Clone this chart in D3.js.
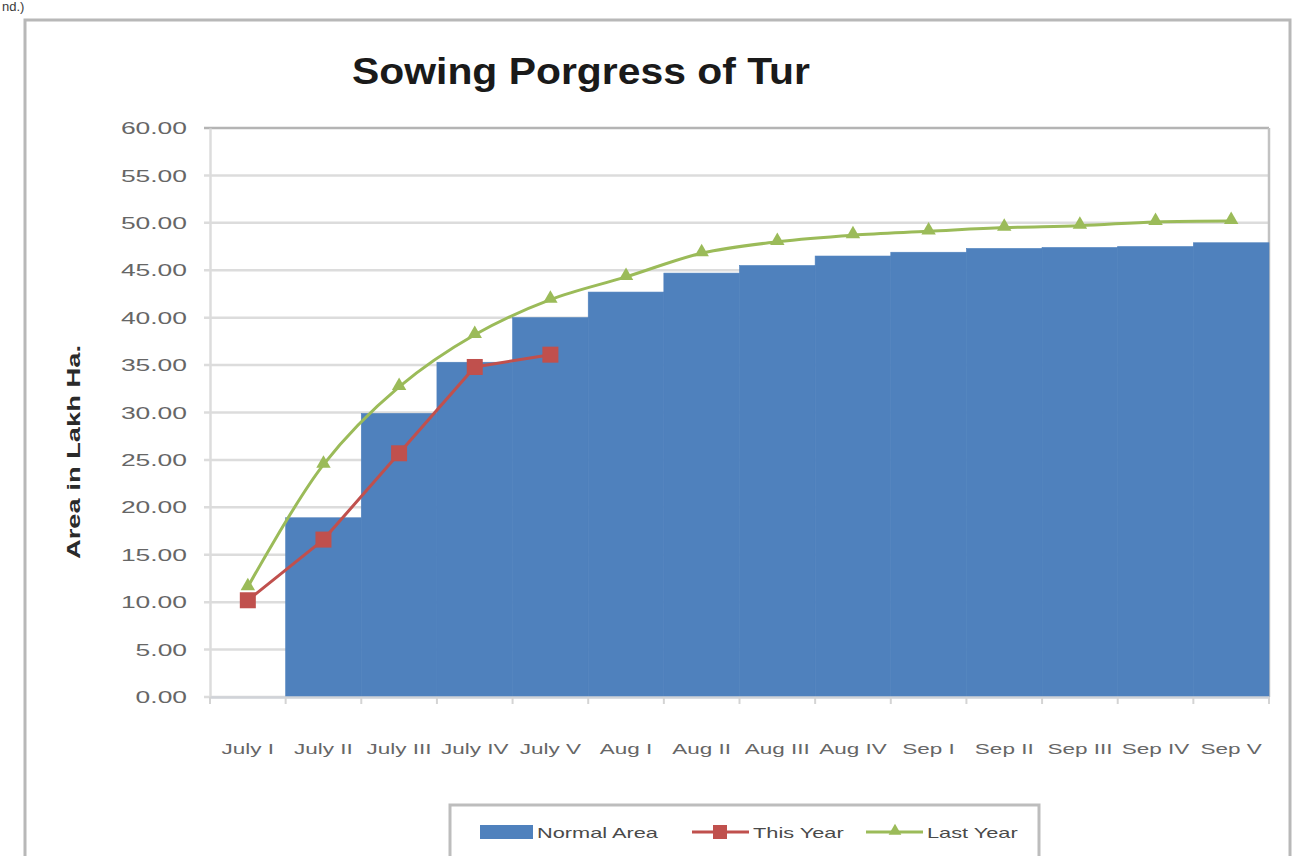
<!DOCTYPE html>
<html>
<head>
<meta charset="utf-8">
<script src="https://cdn.jsdelivr.net/npm/d3@7"></script>
<style>
  html, body { margin: 0; padding: 0; background: #ffffff; overflow: hidden; }
  svg { display: block; }
</style>
</head>
<body>
<script>
// ---------- Data ----------
const categories = ["July I", "July II", "July III", "July IV", "July V", "Aug I", "Aug II", "Aug III", "Aug IV", "Sep I", "Sep II", "Sep III", "Sep IV", "Sep V"];
const normalArea = [0, 18.9, 29.9, 35.3, 40.0, 42.7, 44.7, 45.5, 46.5, 46.9, 47.3, 47.4, 47.5, 47.9];
const thisYear   = [10.2, 16.6, 25.7, 34.8, 36.1];
const lastYear   = [11.6, 24.5, 32.7, 38.2, 41.9, 44.3, 46.8, 48.0, 48.7, 49.1, 49.5, 49.7, 50.1, 50.2];
const yTicks     = [0, 5, 10, 15, 20, 25, 30, 35, 40, 45, 50, 55, 60];
const seriesNames = ["Normal Area", "This Year", "Last Year"];
const titleText  = "Sowing Porgress of Tur";
const yTitleText = "Area in Lakh Ha.";
const cornerText = "nd.)";

// ---------- Setup ----------
const W = 1296, H = 856;
const colors = { area: "#4f81bd", thisYear: "#c0504d", lastYear: "#9bbb59" };
const plot = { left: 210, right: 1269, top: 128, bottom: 697 };
const FONT = "Liberation Sans, Arial, sans-serif";

const svg = d3.select("body").append("svg").attr("width", W).attr("height", H);

function stretch(sel, factor) {
  sel.each(function () {
    const w = this.getComputedTextLength();
    this.setAttribute("textLength", (w * factor).toFixed(1));
    this.setAttribute("lengthAdjust", "spacingAndGlyphs");
  });
}

// fragment of the surrounding document text at the top-left corner
svg.append("text").attr("x", 2).attr("y", 11)
  .attr("font-family", FONT).attr("font-size", 13).attr("fill", "#3a3a3a").text(cornerText);

// chart frame
svg.append("rect").attr("x", 25).attr("y", 20).attr("width", 1265).attr("height", 860)
  .attr("fill", "#ffffff").attr("stroke", "#b8b8b8").attr("stroke-width", 3);

const x = d3.scaleBand().domain(categories).range([plot.left, plot.right]).padding(0);
const y = d3.scaleLinear().domain([0, 60]).range([plot.bottom, plot.top]);

// gridlines
svg.append("g").selectAll("line").data(yTicks).join("line")
  .attr("x1", plot.left - 6).attr("x2", plot.right)
  .attr("y1", d => y(d)).attr("y2", d => y(d))
  .attr("stroke", d => d === 60 ? "#b4b4b4" : "#dcdcdc").attr("stroke-width", 2.5);

// plot right border
svg.append("line").attr("x1", plot.right).attr("x2", plot.right)
  .attr("y1", plot.top).attr("y2", plot.bottom)
  .attr("stroke", "#c2c2c2").attr("stroke-width", 2.5);

// columns (gap 0)
svg.append("g").selectAll("rect").data(categories).join("rect")
  .attr("x", d => x(d)).attr("width", x.bandwidth())
  .attr("y", (d, i) => y(normalArea[i]))
  .attr("height", (d, i) => y(0) - y(normalArea[i]))
  .attr("fill", colors.area)
  .attr("stroke", colors.area).attr("stroke-width", 0.6);

// y axis
const yAxis = d3.axisLeft(y).tickValues(yTicks).tickSize(0).tickPadding(0)
  .tickFormat(d3.format(".2f"));
const gy = svg.append("g").attr("transform", `translate(${plot.left},0)`).call(yAxis);
gy.select(".domain").attr("stroke", "#dcdcdc").attr("stroke-width", 2.5);
gy.selectAll(".tick text")
  .attr("x", -23).attr("dy", "0.35em")
  .attr("font-family", FONT)
  .attr("font-size", 16).attr("fill", "#666666")
  .call(stretch, 1.65);

// x axis
const xAxis = d3.axisBottom(x).tickSize(0).tickPadding(0);
const gx = svg.append("g").attr("transform", `translate(0,${plot.bottom})`).call(xAxis);
gx.select(".domain").attr("stroke", "#d0d3d8").attr("stroke-width", 2.5);
gx.selectAll(".tick text")
  .attr("y", 57).attr("dy", 0)
  .attr("font-family", FONT)
  .attr("font-size", 15).attr("fill", "#666666")
  .call(stretch, 1.5);
// tick marks at category boundaries
const boundaries = categories.map(c => x(c)).concat([x.range()[1]]);
svg.append("g").selectAll("line").data(boundaries).join("line")
  .attr("x1", d => d).attr("x2", d => d)
  .attr("y1", plot.bottom).attr("y2", plot.bottom + 7)
  .attr("stroke", "#d4d4d4").attr("stroke-width", 2);

// Last Year smooth line
const cx = i => x(categories[i]) + x.bandwidth() / 2;
const lineLast = d3.line().x((d, i) => cx(i)).y(d => y(d)).curve(d3.curveCatmullRom.alpha(0.5));
svg.append("path").datum(lastYear).attr("d", lineLast)
  .attr("fill", "none").attr("stroke", colors.lastYear).attr("stroke-width", 3);
const tri = d3.symbol().type(d3.symbolTriangle).size(90);
svg.append("g").selectAll("path").data(lastYear).join("path")
  .attr("d", tri).attr("transform", (d, i) => `translate(${cx(i)},${y(d) - 1})`)
  .attr("fill", colors.lastYear);

// This Year line
const lineThis = d3.line().x((d, i) => cx(i)).y(d => y(d));
svg.append("path").datum(thisYear).attr("d", lineThis)
  .attr("fill", "none").attr("stroke", colors.thisYear).attr("stroke-width", 3);
svg.append("g").selectAll("rect").data(thisYear).join("rect")
  .attr("x", (d, i) => cx(i) - 8).attr("y", d => y(d) - 8)
  .attr("width", 16).attr("height", 16).attr("fill", colors.thisYear);

// title
svg.append("text").attr("x", 581).attr("y", 84).attr("text-anchor", "middle")
  .attr("font-family", FONT).attr("font-weight", "bold")
  .attr("font-size", 37).attr("fill", "#1a1a1a")
  .attr("textLength", 458).attr("lengthAdjust", "spacingAndGlyphs")
  .text(titleText);

// y title
svg.append("text").attr("transform", "translate(80,452) rotate(-90)")
  .attr("text-anchor", "middle")
  .attr("font-family", FONT).attr("font-weight", "bold")
  .attr("font-size", 18).attr("fill", "#2a2a2a")
  .attr("textLength", 214).attr("lengthAdjust", "spacingAndGlyphs")
  .text(yTitleText);

// legend
const lg = svg.append("g");
lg.append("rect").attr("x", 450).attr("y", 805).attr("width", 589).attr("height", 80)
  .attr("fill", "#ffffff").attr("stroke", "#bdbdbd").attr("stroke-width", 3);
const ly = 832;
const legendItems = [
  { name: seriesNames[0], kind: "area", color: colors.area, x0: 480, tx: 537 },
  { name: seriesNames[1], kind: "square", color: colors.thisYear, x0: 692, tx: 753 },
  { name: seriesNames[2], kind: "tri", color: colors.lastYear, x0: 866, tx: 927 }
];
legendItems.forEach(it => {
  if (it.kind === "area") {
    lg.append("rect").attr("x", it.x0).attr("y", ly - 7).attr("width", 53).attr("height", 14).attr("fill", it.color);
  } else {
    lg.append("line").attr("x1", it.x0).attr("x2", it.x0 + 57).attr("y1", ly).attr("y2", ly)
      .attr("stroke", it.color).attr("stroke-width", 3);
    if (it.kind === "square") {
      lg.append("rect").attr("x", it.x0 + 28 - 7).attr("y", ly - 7).attr("width", 14).attr("height", 14).attr("fill", it.color);
    } else {
      lg.append("path").attr("d", d3.symbol().type(d3.symbolTriangle).size(70))
        .attr("transform", `translate(${it.x0 + 29},${ly - 1})`).attr("fill", it.color);
    }
  }
  lg.append("text").attr("x", it.tx).attr("y", ly + 6)
    .attr("font-family", FONT).attr("font-size", 15)
    .attr("fill", "#4a4a4a").text(it.name).call(stretch, 1.45);
});
</script>
</body>
</html>
